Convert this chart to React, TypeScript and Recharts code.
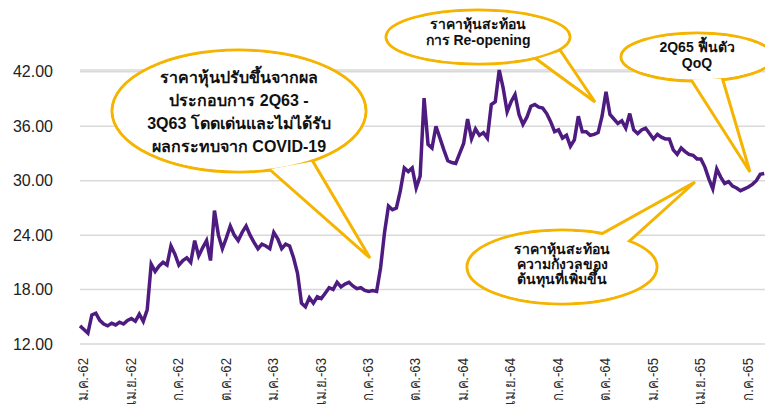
import { CartesianGrid, Customized, Line, LineChart, XAxis, YAxis } from "recharts";

// quarter labels (Thai Buddhist-era short years), one per 3 months
const quarterLabels = [
  "ม.ค.-62", "เม.ย.-62", "ก.ค.-62", "ต.ค.-62",
  "ม.ค.-63", "เม.ย.-63", "ก.ค.-63", "ต.ค.-63",
  "ม.ค.-64", "เม.ย.-64", "ก.ค.-64", "ต.ค.-64",
  "ม.ค.-65", "เม.ย.-65", "ก.ค.-65",
];
const quarterTicks = [0, 3, 6, 9, 12, 15, 18, 21, 24, 27, 30, 33, 36, 39, 42];
const yTicks = [12, 18, 24, 30, 36, 42];

// weekly closing price (one value every quarter month)
const prices = [
  14.0, 13.6, 13.2, 15.2, 15.4, 14.6, 14.2, 14.0, 14.3, 14.1,
  14.4, 14.2, 14.6, 14.8, 14.5, 15.3, 14.5, 15.8, 20.8, 20.0,
  20.6, 21.0, 20.7, 22.8, 21.9, 20.7, 21.2, 21.5, 21.0, 23.4,
  21.7, 22.6, 23.4, 21.2, 26.7, 24.0, 22.5, 23.7, 25.0, 24.0,
  23.4, 24.3, 25.0, 24.0, 23.2, 22.5, 23.0, 22.8, 22.5, 24.3,
  23.6, 22.5, 23.0, 22.8, 21.5, 19.8, 16.5, 16.1, 17.1, 16.5,
  17.2, 17.0, 17.6, 18.2, 18.0, 18.8, 18.3, 18.6, 18.8, 18.4,
  18.1, 18.2, 17.9, 17.8, 17.9, 17.8, 20.4, 24.3, 27.2, 26.8,
  27.0, 28.9, 31.4, 31.0, 31.4, 29.2, 30.5, 39.1, 34.0, 33.6,
  36.0, 34.7, 33.4, 32.2, 32.0, 31.9, 33.0, 34.1, 36.8, 34.6,
  35.7, 35.0, 35.3, 34.7, 38.4, 38.7, 42.2, 40.2, 37.6, 38.7,
  39.5, 37.3, 36.2, 37.0, 38.2, 38.4, 38.1, 38.0, 37.4, 36.5,
  35.4, 35.6, 34.7, 35.0, 33.8, 34.5, 37.1, 35.4, 35.4, 35.0,
  35.1, 35.3, 37.1, 39.8, 37.3, 36.8, 36.3, 36.6, 35.8, 37.4,
  35.6, 35.2, 35.6, 35.8, 35.2, 34.6, 35.1, 34.8, 34.6, 34.6,
  33.4, 32.9, 33.6, 33.2, 32.9, 32.8, 32.4, 32.4, 31.5, 30.2,
  29.1, 31.3, 30.4, 29.7, 29.9, 29.4, 29.2, 28.9, 29.1, 29.3,
  29.6, 30.0, 30.7, 30.8,
];

const data = prices.map((price, i) => ({ m: i / 4, price }));

const YELLOW = "#f5b400";
const PURPLE = "#4e1b80";

type Bubble = {
  cx: number;
  cy: number;
  rx: number;
  ry: number;
  tail: [number, number][];
  lines: string[];
  size: number;
  lineH: number;
  textY: number;
};

const bubbles: Bubble[] = [
  {
    cx: 239, cy: 111, rx: 127, ry: 61,
    tail: [[268, 168], [312, 160], [370, 258]],
    lines: ["ราคาหุ้นปรับขึ้นจากผล", "ประกอบการ 2Q63 -", "3Q63 โดดเด่นและไม่ได้รับ", "ผลกระทบจาก COVID-19"],
    size: 16, lineH: 23, textY: 77,
  },
  {
    cx: 478, cy: 37, rx: 92, ry: 27,
    tail: [[535, 58], [560, 50], [595, 102]],
    lines: ["ราคาหุ้นสะท้อน", "การ Re-opening"],
    size: 14, lineH: 16, textY: 24,
  },
  {
    cx: 697, cy: 57, rx: 76, ry: 24,
    tail: [[690, 78], [722, 77], [750, 172]],
    lines: ["2Q65 ฟื้นตัว", "QoQ"],
    size: 14, lineH: 16, textY: 47,
  },
  {
    cx: 562, cy: 267, rx: 95, ry: 37,
    tail: [[598, 236], [625, 245], [695, 182]],
    lines: ["ราคาหุ้นสะท้อน", "ความกังวลของ", "ต้นทุนที่เพิ่มขึ้น"],
    size: 14, lineH: 15, textY: 249,
  },
];

function Callouts() {
  return (
    <g>
      {bubbles.map((b, i) => (
        <g key={i}>
          <ellipse cx={b.cx} cy={b.cy} rx={b.rx} ry={b.ry} fill="#fff" stroke={YELLOW} strokeWidth={3} />
          <polygon
            points={b.tail.map((p) => p.join(",")).join(" ")}
            fill="#fff"
            stroke={YELLOW}
            strokeWidth={3}
            strokeLinejoin="miter"
          />
          <ellipse cx={b.cx} cy={b.cy} rx={b.rx - 1.6} ry={b.ry - 1.6} fill="#fff" />
          {b.lines.map((t, j) => (
            <text
              key={j}
              x={b.cx}
              y={b.textY + j * b.lineH}
              textAnchor="middle"
              dominantBaseline="central"
              fontFamily="'Liberation Sans', 'Noto Sans', sans-serif"
              fontWeight="bold"
              fontSize={b.size}
              fill="#111"
            >
              {t}
            </text>
          ))}
        </g>
      ))}
    </g>
  );
}

function YTick(props: any) {
  const { y, payload } = props;
  return (
    <text x={53} y={y} dy="0.35em" textAnchor="end" fontSize={16} fill="#222"
      fontFamily="'Liberation Sans', Arial, sans-serif">
      {Number(payload.value).toFixed(2)}
    </text>
  );
}

function XTick(props: any) {
  const { x, payload } = props;
  const idx = quarterTicks.indexOf(payload.value);
  return (
    <text
      transform={`translate(${x + 3},358) rotate(-90) scale(0.88,1)`}
      dy="0.35em"
      textAnchor="end"
      fontSize={15}
      fill="#2a2a2a"
      fontFamily="'Liberation Sans', 'Noto Sans', sans-serif"
    >
      {quarterLabels[idx]}
    </text>
  );
}

export default function App() {
  return (
    <div style={{ position: "absolute", left: 0, top: 0, width: 765, height: 416, background: "#fff" }}>
      <LineChart width={765} height={416} data={data} margin={{ top: 70, right: 0, bottom: 0, left: 0 }}>
        <CartesianGrid vertical={false} stroke="#d9d9d9" strokeWidth={1.5} />
        <XAxis
          dataKey="m"
          type="number"
          domain={[0, 43.3]}
          ticks={quarterTicks}
          interval={0}
          axisLine={false}
          tickLine={false}
          height={72}
          tick={<XTick />}
        />
        <YAxis
          domain={[12, 42]}
          ticks={yTicks}
          width={80}
          axisLine={false}
          tickLine={false}
          tick={<YTick />}
        />
        <Line
          dataKey="price"
          type="linear"
          stroke={PURPLE}
          strokeWidth={3.5}
          dot={false}
          isAnimationActive={false}
        />
        <Customized component={Callouts} />
      </LineChart>
    </div>
  );
}
